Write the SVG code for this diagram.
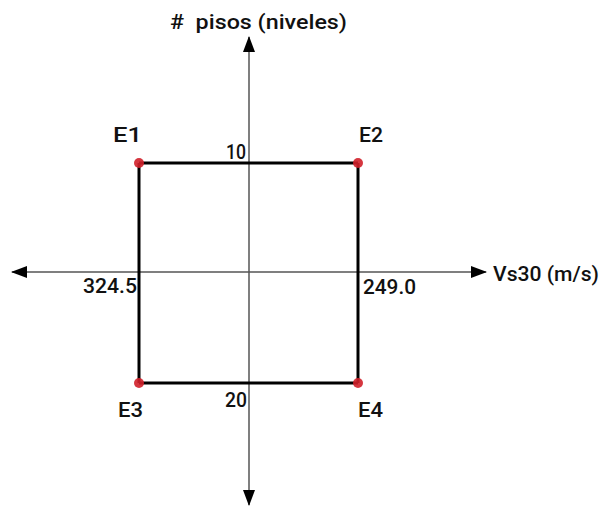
<svg xmlns="http://www.w3.org/2000/svg" width="603" height="506" viewBox="0 0 603 506">
<style>
text{font-family:Roboto,"DejaVu Sans",sans-serif;font-size:20px;font-weight:500;fill:#111}
.axis{stroke:#555;stroke-width:1.5;fill:none}
.edge{stroke:#000;stroke-width:3;fill:none}
.dot{fill:#d0202a;fill-opacity:0.9}
</style>
<defs>
<marker id="arr" viewBox="0 0 16 12" refX="15" refY="6" markerWidth="16" markerHeight="12" markerUnits="userSpaceOnUse" orient="auto">
<path d="M0,0 L16,6 L0,12 Z" fill="#000"/>
</marker>
</defs>
<rect width="603" height="506" fill="#fff"/>
<g id="connectors">
<line class="axis" x1="249" y1="272" x2="249" y2="37" marker-end="url(#arr)"/>
<line class="axis" x1="249" y1="272" x2="249" y2="505" marker-end="url(#arr)"/>
<line class="axis" x1="249" y1="272" x2="12" y2="272" marker-end="url(#arr)"/>
<line class="axis" x1="249" y1="272" x2="486" y2="272" marker-end="url(#arr)"/>
<line class="edge" x1="139" y1="163" x2="358" y2="163"/>
<line class="edge" x1="139" y1="383" x2="358" y2="383"/>
<line class="edge" x1="139" y1="163" x2="139" y2="383"/>
<line class="edge" x1="358" y1="163" x2="358" y2="383"/>
</g>
<g id="E1"><circle class="dot" cx="139" cy="163" r="5"/><text x="113" y="142" textLength="29" lengthAdjust="spacingAndGlyphs">E1</text></g>
<g id="E2"><circle class="dot" cx="358" cy="163" r="5"/><text x="359" y="142" textLength="24" lengthAdjust="spacingAndGlyphs">E2</text></g>
<g id="E3"><circle class="dot" cx="139" cy="383" r="5"/><text x="118" y="417" textLength="25" lengthAdjust="spacingAndGlyphs">E3</text></g>
<g id="E4"><circle class="dot" cx="358" cy="383" r="5"/><text x="358" y="417" textLength="25" lengthAdjust="spacingAndGlyphs">E4</text></g>
<g id="labels">
<text x="170" y="29" xml:space="preserve" textLength="177" lengthAdjust="spacingAndGlyphs">#  pisos (niveles)</text>
<text x="493" y="281" textLength="106" lengthAdjust="spacingAndGlyphs">Vs30 (m/s)</text>
<text x="226" y="159" textLength="20" lengthAdjust="spacingAndGlyphs">10</text>
<text x="225" y="407" textLength="22" lengthAdjust="spacingAndGlyphs">20</text>
<text x="83" y="293" textLength="54" lengthAdjust="spacingAndGlyphs">324.5</text>
<text x="363" y="294" textLength="53" lengthAdjust="spacingAndGlyphs">249.0</text>
</g>
</svg>
